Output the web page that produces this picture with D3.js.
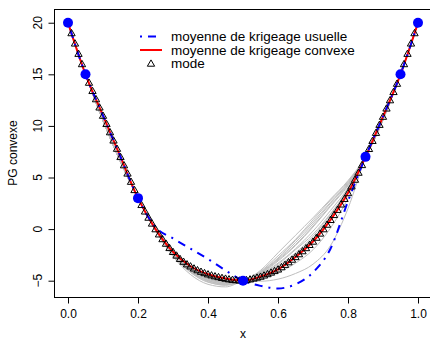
<!DOCTYPE html>
<html>
<head>
<meta charset="utf-8">
<script src="https://cdn.jsdelivr.net/npm/d3@7"></script>
<style>
  body { margin: 0; background: #fff; }
  text { font-family: "Liberation Sans", Arial, sans-serif; fill: #000; }
</style>
</head>
<body>
<svg id="chart" width="430" height="340"></svg>
<script>
// observed points (blue dots)
const obsX = [0, 0.05, 0.2, 0.5, 0.85, 0.95, 1];
const obsY = [20, 15, 3, -5, 7, 15, 20];

// kriging means on a 0.05 grid
const meanX = [0, 0.05, 0.1, 0.15, 0.2, 0.25, 0.3, 0.35, 0.4, 0.45, 0.5,
  0.55, 0.6, 0.65, 0.7, 0.75, 0.8, 0.85, 0.9, 0.95, 1];
const convexMean = [20, 15, 11, 7, 3, 0, -2.2, -3.6, -4.37, -4.79, -5,
  -4.6, -3.9, -2.7, -1.2, 0.9, 3.5, 7, 10.9, 15, 20];
const usualMean = [20, 15, 11, 7, 3, 0.2, -0.9, -1.9, -2.9, -4.0, -5,
  -5.5, -5.75, -5.35, -4.2, -1.9, 2.7, 7, 10.9, 15, 20];

// mode, every 0.01
const modeX = d3.range(0, 101).map(i => i / 100);
const modeY = [
  20.0, 19.0, 18.0, 17.0, 16.0, 15.0, 14.2, 13.4, 12.6, 11.8,
  11.0, 10.2, 9.4, 8.6, 7.8, 7.0, 6.2, 5.4, 4.6, 3.8,
  3.0, 2.35, 1.72, 1.12, 0.55, 0.0, -0.5, -0.96, -1.4, -1.82,
  -2.2, -2.55, -2.88, -3.15, -3.4, -3.6, -3.8, -3.97, -4.12, -4.25,
  -4.37, -4.47, -4.56, -4.64, -4.72, -4.79, -4.85, -4.9, -4.94, -4.97,
  -5.0, -4.93, -4.86, -4.78, -4.69, -4.6, -4.48, -4.35, -4.2, -4.05,
  -3.9, -3.68, -3.45, -3.2, -2.95, -2.7, -2.42, -2.13, -1.83, -1.52,
  -1.2, -0.82, -0.42, 0.0, 0.44, 0.9, 1.38, 1.88, 2.4, 2.94,
  3.5, 4.15, 4.8, 5.48, 6.22, 7.0, 7.78, 8.56, 9.34, 10.12,
  10.9, 11.7, 12.5, 13.3, 14.1, 15.0, 16.0, 17.0, 18.0, 19.0,
  20.0
];

// simulated convex sample paths (grey)
const sampleX = [0, 0.05, 0.2, 0.25, 0.3, 0.35, 0.4, 0.45, 0.5, 0.55, 0.6,
  0.65, 0.7, 0.75, 0.8, 0.85, 0.95, 1];
const samples = [
  [20, 15, 3, -0.15, -2.65, -4.4, -5.35, -5.6, -5, -4.4, -3.4, -2.0, -0.5, 1.5, 3.8, 7, 15, 20],
  [20, 15, 3, -0.1, -2.55, -4.2, -5.15, -5.4, -5, -4.1, -2.6, -1.0, 0.9, 2.8, 4.6, 7, 15, 20],
  [20, 15, 3, -0.05, -2.45, -4.05, -4.95, -5.3, -5, -4.2, -2.9, -1.3, 0.5, 2.5, 4.4, 7, 15, 20],
  [20, 15, 3, -0.1, -2.5, -4.1, -5.0, -5.3, -5, -4.0, -2.3, -0.6, 1.1, 2.9, 4.7, 7, 15, 20],
  [20, 15, 3, 0, -2.35, -3.9, -4.8, -5.15, -5, -4.3, -3.1, -1.6, 0.2, 2.2, 4.2, 7, 15, 20],
  [20, 15, 3, -0.05, -2.4, -3.95, -4.85, -5.2, -5, -4.45, -3.55, -2.3, -0.7, 1.4, 3.9, 7, 15, 20],
  [20, 15, 3, 0, -2.3, -3.8, -4.65, -5.05, -5, -4.25, -3.0, -1.5, 0.3, 2.3, 4.3, 7, 15, 20],
  [20, 15, 3, -0.1, -2.5, -4.15, -5.1, -5.45, -5, -4.35, -3.3, -1.9, -0.2, 1.8, 4.0, 7, 15, 20],
  [20, 15, 3, 0, -2.3, -3.75, -4.6, -5.0, -5, -5.05, -4.85, -4.3, -3.4, -1.6, 2.0, 7, 15, 20],
  [20, 15, 3, -0.05, -2.4, -3.95, -4.85, -5.2, -5, -4.7, -4.2, -3.3, -2.0, 0.1, 3.0, 7, 15, 20],
  [20, 15, 3, -0.1, -2.5, -4.1, -5.0, -5.35, -5, -4.15, -2.8, -1.1, 0.7, 2.6, 4.5, 7, 15, 20],
  [20, 15, 3, 0, -2.3, -3.85, -4.75, -5.1, -5, -4.5, -3.7, -2.5, -1.0, 1.1, 3.7, 7, 15, 20]
];

const xTicks = [0, 0.2, 0.4, 0.6, 0.8, 1];
const yTicks = [-5, 0, 5, 10, 15, 20];
const legendLabels = ["moyenne de krigeage usuelle", "moyenne de krigeage convexe", "mode"];

// ---------------------
const svg = d3.select("#chart");
const plotLeft = 54, plotRight = 432, plotTop = 9, plotBottom = 297;

const x = d3.scaleLinear().domain([-0.04, 1.04]).range([plotLeft, plotRight]);
const y = d3.scaleLinear().domain([-6.58, 21.33]).range([plotBottom, plotTop]);

const line = (xs) => d3.line()
  .x((d, i) => x(xs[i]))
  .y(d => y(d))
  .curve(d3.curveMonotoneX);

// grey sample paths
svg.append("g")
  .selectAll("path")
  .data(samples)
  .join("path")
  .attr("d", line(sampleX))
  .attr("fill", "none")
  .attr("stroke", "#bebebe")
  .attr("stroke-width", 1);

// convex kriging mean
svg.append("path")
  .attr("d", line(meanX)(convexMean))
  .attr("fill", "none")
  .attr("stroke", "#ff0000")
  .attr("stroke-width", 2);

// usual kriging mean
svg.append("path")
  .attr("d", line(meanX)(usualMean))
  .attr("fill", "none")
  .attr("stroke", "#0000ff")
  .attr("stroke-width", 2)
  .attr("stroke-dasharray", "2,6,8,6");

// mode triangles
const tri = d3.symbol().type(d3.symbolTriangle).size(23);
svg.append("g")
  .selectAll("path")
  .data(modeY)
  .join("path")
  .attr("d", tri)
  .attr("transform", (d, i) => `translate(${x(modeX[i])},${y(d) + 0.6})`)
  .attr("fill", "none")
  .attr("stroke", "#000")
  .attr("stroke-width", 1);

// observations
svg.append("g")
  .selectAll("circle")
  .data(obsY)
  .join("circle")
  .attr("cx", (d, i) => x(obsX[i]))
  .attr("cy", d => y(d))
  .attr("r", 5)
  .attr("fill", "#0000ff");

// box
svg.append("rect")
  .attr("x", plotLeft + 0.5)
  .attr("y", plotTop + 0.5)
  .attr("width", plotRight - plotLeft)
  .attr("height", plotBottom - plotTop)
  .attr("fill", "none")
  .attr("stroke", "#000")
  .attr("stroke-width", 1);

// x axis
const xAxis = svg.append("g")
  .attr("transform", `translate(0,${plotBottom + 0.5})`)
  .call(d3.axisBottom(x).tickValues(xTicks).tickFormat(d3.format(".1f"))
    .tickSize(6).tickPadding(6));
xAxis.select(".domain").remove();
xAxis.selectAll("text").style("font-size", "12px").attr("fill", "#000");

// y axis
const yAxis = svg.append("g")
  .attr("transform", `translate(${plotLeft + 0.5},0)`)
  .call(d3.axisLeft(y).tickValues(yTicks).tickFormat("").tickSize(6));
yAxis.select(".domain").remove();

svg.append("g")
  .selectAll("text")
  .data(yTicks)
  .join("text")
  .attr("transform", d => `translate(41.5,${y(d)}) rotate(-90)`)
  .attr("text-anchor", "middle")
  .style("font-size", "12px")
  .text(d => d3.format("d")(d));

// axis titles
svg.append("text")
  .attr("x", x(0.5))
  .attr("y", 338)
  .attr("text-anchor", "middle")
  .style("font-size", "12px")
  .text("x");

svg.append("text")
  .attr("transform", `translate(17,${(plotTop + plotBottom) / 2}) rotate(-90)`)
  .attr("text-anchor", "middle")
  .style("font-size", "12px")
  .text("PG convexe");

// legend (rows sit tight, as in the original)
const legY = [36.5, 50, 63.5];
const leg = svg.append("g");
leg.append("line")
  .attr("x1", 140).attr("x2", 162)
  .attr("y1", legY[0]).attr("y2", legY[0])
  .attr("stroke", "#0000ff").attr("stroke-width", 2)
  .attr("stroke-dasharray", "2,6,8,6");
leg.append("line")
  .attr("x1", 140).attr("x2", 162)
  .attr("y1", legY[1]).attr("y2", legY[1])
  .attr("stroke", "#ff0000").attr("stroke-width", 2);
leg.append("path")
  .attr("d", tri)
  .attr("transform", `translate(151,${legY[2] + 0.6})`)
  .attr("fill", "none").attr("stroke", "#000");
leg.selectAll("text")
  .data(legendLabels)
  .join("text")
  .attr("x", 171)
  .attr("y", (d, i) => legY[i])
  .attr("dy", "0.36em")
  .style("font-size", "13.5px")
  .text(d => d);
</script>
</body>
</html>
